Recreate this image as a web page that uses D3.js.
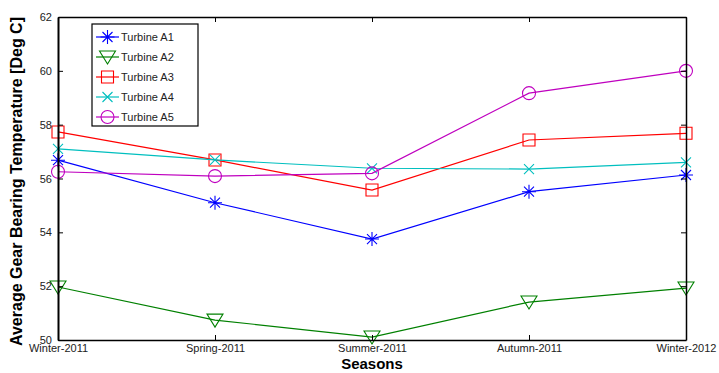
<!DOCTYPE html>
<html>
<head>
<meta charset="utf-8">
<script src="https://cdn.jsdelivr.net/npm/d3@7"></script>
<style>
  html, body { margin: 0; padding: 0; background: #fff; }
  svg { display: block; font-family: "Liberation Sans", Arial, sans-serif; }
</style>
</head>
<body>
<svg id="chart" width="719" height="373"></svg>
<script>
// Seasons on the x axis
const seasons = ["Winter-2011", "Spring-2011", "Summer-2011", "Autumn-2011", "Winter-2012"];
// Average gear bearing temperature per turbine [Deg C]
const turbineA1 = [56.68, 55.10, 53.75, 55.51, 56.13];
const turbineA2 = [51.97, 50.74, 50.11, 51.41, 51.93];
const turbineA3 = [57.73, 56.69, 55.57, 57.43, 57.68];
const turbineA4 = [57.10, 56.69, 56.38, 56.35, 56.60];
const turbineA5 = [56.25, 56.09, 56.19, 59.17, 60.00];
const yTicks = [50, 52, 54, 56, 58, 60, 62];

const series = [
  { name: "Turbine A1", values: turbineA1, color: "#0000ff", marker: "star" },
  { name: "Turbine A2", values: turbineA2, color: "#008000", marker: "triangle" },
  { name: "Turbine A3", values: turbineA3, color: "#ff0000", marker: "square" },
  { name: "Turbine A4", values: turbineA4, color: "#00bfbf", marker: "x" },
  { name: "Turbine A5", values: turbineA5, color: "#bf00bf", marker: "circle" }
];

(function () {
const svg = d3.select("#chart");
const plotLeft = 58, plotRight = 686, plotTop = 17, plotBottom = 340;

const x = d3.scalePoint().domain(seasons).range([plotLeft, plotRight]);
const y = d3.scaleLinear().domain([50, 62]).range([plotBottom, plotTop]);

// marker path generator, centred at 0,0
function markerPath(type) {
  const p = d3.path();
  if (type === "star") {
    const r = 7, d = 5;
    p.moveTo(-r, 0); p.lineTo(r, 0);
    p.moveTo(0, -r); p.lineTo(0, r);
    p.moveTo(-d, -d); p.lineTo(d, d);
    p.moveTo(-d, d); p.lineTo(d, -d);
  } else if (type === "triangle") {
    p.moveTo(-8, -6); p.lineTo(8, -6); p.lineTo(0, 7); p.closePath();
  } else if (type === "square") {
    p.rect(-6, -6, 12, 12);
  } else if (type === "x") {
    const d = 5;
    p.moveTo(-d, -d); p.lineTo(d, d);
    p.moveTo(-d, d); p.lineTo(d, -d);
  } else if (type === "circle") {
    p.arc(0, 0, 6.5, 0, 2 * Math.PI);
  }
  return p.toString();
}

// series lines and markers
const line = d3.line().x((d, i) => x(seasons[i])).y(d => y(d));
series.forEach(s => {
  svg.append("path")
    .attr("d", line(s.values))
    .attr("fill", "none")
    .attr("stroke", s.color)
    .attr("stroke-width", 1.2);
  svg.selectAll(null)
    .data(s.values)
    .enter().append("path")
    .attr("transform", (d, i) => `translate(${x(seasons[i])},${y(d)})`)
    .attr("d", markerPath(s.marker))
    .attr("fill", "none")
    .attr("stroke", s.color)
    .attr("stroke-width", 1.1);
});

// axes with inward ticks on all four sides
const tickLen = 5;
const axisL = svg.append("g").attr("transform", `translate(${plotLeft},0)`)
  .call(d3.axisLeft(y).tickValues(yTicks).tickSizeInner(-tickLen).tickSizeOuter(0).tickPadding(6).tickFormat(d3.format("d")));
const axisR = svg.append("g").attr("transform", `translate(${plotRight},0)`)
  .call(d3.axisRight(y).tickValues(yTicks).tickSizeInner(-tickLen).tickSizeOuter(0).tickFormat(""));
const axisB = svg.append("g").attr("transform", `translate(0,${plotBottom})`)
  .call(d3.axisBottom(x).tickSizeInner(-tickLen).tickSizeOuter(0).tickPadding(4.5));
const axisT = svg.append("g").attr("transform", `translate(0,${plotTop})`)
  .call(d3.axisTop(x).tickSizeInner(-tickLen).tickSizeOuter(0).tickFormat(""));

[axisL, axisR, axisB, axisT].forEach(g => {
  g.select(".domain").attr("stroke", "#000").attr("stroke-width", 1.5);
  g.selectAll(".tick line").attr("stroke", "#000").attr("stroke-width", 1);
  g.selectAll(".tick text").attr("fill", "#222").style("font-size", "11px")
    .style("font-family", "'Liberation Sans', Arial, sans-serif");
});
axisL.select(".domain").attr("stroke-width", 2);

// axis titles
svg.append("text")
  .attr("x", x(seasons[2])).attr("y", 368.5)
  .attr("text-anchor", "middle")
  .style("font-weight", "bold").style("font-size", "15px")
  .text("Seasons");
svg.append("text")
  .attr("transform", `translate(22,${(plotTop + plotBottom) / 2 + 3}) rotate(-90)`)
  .attr("text-anchor", "middle")
  .style("font-weight", "bold").style("font-size", "16px")
  .text("Average Gear Bearing Temperature [Deg C]");

// legend
const legend = svg.append("g");
legend.append("rect")
  .attr("x", 92).attr("y", 24).attr("width", 106).attr("height", 102)
  .attr("fill", "#fff").attr("stroke", "#000").attr("stroke-width", 1.2);
series.forEach((s, i) => {
  const ly = 37 + i * 20;
  legend.append("line")
    .attr("x1", 96).attr("x2", 119).attr("y1", ly).attr("y2", ly)
    .attr("stroke", s.color).attr("stroke-width", 1.2);
  legend.append("path")
    .attr("transform", `translate(107.5,${ly})`)
    .attr("d", markerPath(s.marker))
    .attr("fill", "none").attr("stroke", s.color).attr("stroke-width", 1.1);
  legend.append("text")
    .attr("x", 121).attr("y", ly + 4)
    .style("font-size", "11px").attr("fill", "#222")
    .text(s.name);
});
})();
</script>
</body>
</html>
